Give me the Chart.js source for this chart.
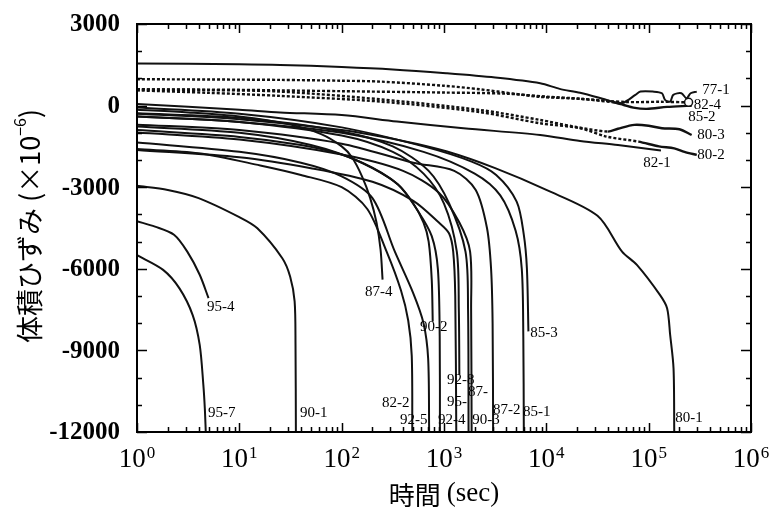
<!DOCTYPE html>
<html>
<head>
<meta charset="utf-8">
<script src="https://cdn.jsdelivr.net/npm/chart.js@4.4.1/dist/chart.umd.min.js"></script>
<style>
  body { margin: 0; background: #fff; }
</style>
</head>
<body>
<canvas id="myChart" width="774" height="516"></canvas>
<script>
// time (sec) and volumetric strain (x10^-6), one pair per specimen
const t77_1 = [1, 10, 25, 100, 316, 1047, 3162, 8710, 13490, 21380, 35481, 44668, 48978, 56234, 74131, 83176, 109648, 134896, 144544, 162181, 173780, 208930, 234423, 257040, 295121]
const v77_1 = [1550, 1520, 1496, 1420, 1330, 1188, 1030, 820, 614, 470, 250, 140, 110, 100, 393, 515, 515, 453, 210, 147, 393, 453, 270, 453, 515]

const t82_4 = [1, 10, 25, 100, 240, 1000, 2239, 5012, 8710, 21380, 61660, 128825, 245471]
const v82_4 = [970, 955, 945, 915, 882, 730, 600, 430, 320, 250, 130, 140, 120]

const t85_2 = [1, 10, 25, 100, 1000, 3981, 10000, 21380, 44668, 56234, 70795, 95499, 151356, 234423, 263027]
const v85_2 = [600, 580, 560, 530, 480, 440, 330, 250, 120, 30, -74, -121, -48, -11, -5]

const t80_3 = [1, 5, 25, 240, 2239, 8710, 18621, 39811, 50119, 72444, 100000, 134896, 199526, 263027]
const v80_3 = [600, 570, 515, 230, -160, -527, -770, -955, -850, -710, -740, -833, -870, -1080]

const t80_2 = [1, 5, 25, 240, 2239, 8710, 21380, 38905, 79433, 125893, 177828, 223872, 295121]
const v80_2 = [560, 470, 357, 147, -240, -650, -833, -1140, -1323, -1500, -1570, -1700, -1813]

const t82_1 = [1, 10, 25, 100, 347, 1549, 8710, 21380, 50119, 120226, 131826]
const v82_1 = [60, -150, -250, -350, -588, -834, -1080, -1300, -1450, -1630, -1650]

const t80_1 = [1, 10, 100, 398, 1072, 3162, 10000, 31623, 54954, 76736, 128825, 151356, 162181, 174985, 177828]
const v80_1 = [-300, -500, -900, -1300, -1690, -2300, -3100, -4050, -5367, -5856, -6960, -7450, -8430, -9660, -12000]

const t87_4 = [1, 3.16, 10, 31.6, 63, 100, 126, 158, 190, 219, 240, 251]
const v87_4 = [-150, -250, -400, -700, -1050, -1500, -1900, -2600, -3400, -4300, -5300, -6400]

const t82_2 = [1, 4, 16, 40, 100, 178, 275, 380, 447, 484, 490]
const v82_2 = [-1600, -1750, -2200, -2550, -3000, -3800, -5370, -6800, -7900, -9200, -12000]

const t92_5 = [1, 10, 40, 100, 200, 331, 501, 631, 700, 716]
const v92_5 = [-1360, -1700, -2100, -2600, -3400, -5370, -6900, -8000, -9300, -12000]

const t90_2 = [1, 10, 40, 100, 200, 355, 501, 631, 708, 759, 776]
const v90_2 = [-900, -1150, -1450, -1800, -2300, -2900, -3600, -4300, -5000, -6400, -7940]

const t92_4 = [1, 10, 50, 158, 355, 562, 759, 871, 908, 912]
const v92_4 = [-770, -1000, -1450, -2100, -2900, -3900, -4800, -6000, -8500, -12000]

const t95_x = [1, 10, 50, 200, 501, 891, 1122, 1230, 1288, 1318]
const v95_x = [-1630, -1900, -2300, -2800, -3500, -4300, -4700, -5370, -7000, -12000]

const t92_8 = [1, 10, 100, 316, 631, 1000, 1334, 1396, 1413]
const v92_8 = [-400, -600, -1100, -1700, -2500, -3600, -5370, -7500, -9900]

const t87_1 = [1, 10, 100, 316, 708, 1122, 1622, 1718, 1738]
const v87_1 = [-280, -450, -950, -1500, -2400, -3600, -5370, -7500, -12000]

const t90_3 = [1, 10, 100, 398, 891, 1413, 1799, 1841, 1862]
const v90_3 = [-990, -1250, -1800, -2400, -3200, -4300, -5370, -7500, -12000]

const t87_2 = [1, 10, 100, 501, 1259, 2042, 2630, 2884, 2985, 3020]
const v87_2 = [-700, -900, -1400, -2100, -2400, -3100, -4500, -6000, -8000, -12000]

const t85_1 = [1, 10, 100, 631, 1995, 3548, 5012, 5754, 5957, 6026]
const v85_1 = [-400, -600, -1000, -1700, -2500, -3300, -4600, -6000, -8500, -12000]

const t85_3 = [1, 10, 100, 631, 1862, 3236, 5129, 6026, 6457, 6683]
const v85_3 = [-74, -300, -800, -1500, -2060, -2550, -3530, -4750, -5980, -8300]

const t95_4 = [1, 1.5, 2.3, 3.1, 4.1, 5.0]
const v95_4 = [-4250, -4450, -4750, -5370, -6220, -7080]

const t95_7 = [1, 1.8, 2.6, 3.5, 4.1, 4.45, 4.6, 4.7]
const v95_7 = [-5500, -6040, -6720, -7700, -8800, -10270, -11130, -12000]

const t90_1 = [1, 2, 4, 10, 15, 26.3, 31.4, 34.7, 35.4, 35.7]
const v90_1 = [-2950, -3100, -3400, -4100, -4510, -5610, -6290, -7200, -8800, -12000]

const series = [
  ['77-1', t77_1, v77_1], ['82-4', t82_4, v82_4], ['85-2', t85_2, v85_2],
  ['80-3', t80_3, v80_3], ['80-2', t80_2, v80_2], ['82-1', t82_1, v82_1],
  ['80-1', t80_1, v80_1], ['87-4', t87_4, v87_4], ['82-2', t82_2, v82_2],
  ['92-5', t92_5, v92_5], ['90-2', t90_2, v90_2], ['92-4', t92_4, v92_4],
  ['95-', t95_x, v95_x], ['92-8', t92_8, v92_8], ['87-', t87_1, v87_1],
  ['90-3', t90_3, v90_3], ['87-2', t87_2, v87_2], ['85-1', t85_1, v85_1],
  ['85-3', t85_3, v85_3], ['95-4', t95_4, v95_4], ['95-7', t95_7, v95_7],
  ['90-1', t90_1, v90_1]
]

// dotted records, and the time from which they continue as a solid line
const dotted = ['82-4', '85-2', '80-3', '80-2']
const solidFrom = { '85-2': 44668, '80-3': 39811, '80-2': 79433 }
const circleEnd = ['82-4']

// curve labels: text, time, strain of the left edge of the text
const labelText  = ['77-1', '82-4', '85-2', '80-3', '80-2', '82-1', '95-4', '95-7', '90-1', '87-4', '82-2', '92-5', '90-2', '92-4', '95-', '92-8', '87-', '90-3', '87-2', '85-1', '85-3', '80-1']
const labelTime  = [333000, 275000, 243000, 298000, 298000, 88300, 4.84, 4.94, 39.2, 169, 248, 372, 584, 876, 1072, 1072, 1720, 1884, 3020, 5930, 6950, 181600]
const labelValue = [574, 22, -419, -1081, -1816, -2110, -7404, -11302, -11302, -6853, -10934, -11559, -8140, -11559, -10897, -10088, -10529, -11559, -11191, -11265, -8360, -11485]

const yTicks = [3000, 0, -3000, -6000, -9000, -12000]
const xPowers = [0, 1, 2, 3, 4, 5, 6]

const serif = '"Liberation Serif", "Times New Roman", serif'
const gothic = '"Noto Sans CJK JP", sans-serif'

const datasets = series.map(([name, ts, vs]) => {
  const isDotted = dotted.includes(name)
  const from = solidFrom[name]
  const last = ts.length - 1
  return {
    label: name,
    data: ts.map((t, i) => ({ x: t, y: vs[i] })),
    borderColor: '#111',
    borderWidth: isDotted ? 2.4 : 2,
    borderDash: isDotted ? [3, 2] : [],
    tension: 0.3,
    pointRadius: ctx => (circleEnd.includes(name) && ctx.dataIndex === last) ? 4 : 0,
    pointBackgroundColor: '#fff',
    pointBorderColor: '#111',
    pointBorderWidth: 1.5,
    segment: {
      borderDash: ctx => (from && ctx.p0.parsed.x >= from) ? [] : undefined
    }
  }
})

const decorations = {
  id: 'decorations',
  afterDraw(chart) {
    const { ctx, chartArea: a, scales: { x, y } } = chart
    ctx.save()
    ctx.strokeStyle = '#000'
    ctx.fillStyle = '#000'

    // frame
    ctx.lineWidth = 2
    ctx.strokeRect(a.left, a.top, a.right - a.left, a.bottom - a.top)

    // inward ticks
    ctx.lineWidth = 1.5
    ctx.beginPath()
    for (const p of xPowers) {
      for (let m = 1; m < 10; m++) {
        if (p === 6 && m > 1) break
        const px = Math.round(x.getPixelForValue(m * Math.pow(10, p))) + 0.5
        const len = m === 1 ? 9 : 5
        ctx.moveTo(px, a.bottom); ctx.lineTo(px, a.bottom - len)
        ctx.moveTo(px, a.top); ctx.lineTo(px, a.top + len)
      }
    }
    for (let v = -12000; v <= 3000; v += 1000) {
      const py = Math.round(y.getPixelForValue(v)) + 0.5
      const len = v % 3000 === 0 ? 10 : 5
      ctx.moveTo(a.left, py); ctx.lineTo(a.left + len, py)
      ctx.moveTo(a.right, py); ctx.lineTo(a.right - len, py)
    }
    ctx.stroke()

    // y tick labels
    ctx.font = 'bold 25px ' + serif
    ctx.textAlign = 'right'
    ctx.textBaseline = 'middle'
    for (const v of yTicks) {
      ctx.fillText(String(v), a.left - 17, y.getPixelForValue(v) + 1)
    }

    // x tick labels 10^n
    ctx.textAlign = 'left'
    ctx.textBaseline = 'alphabetic'
    for (const p of xPowers) {
      const px = x.getPixelForValue(Math.pow(10, p))
      ctx.font = '27px ' + serif
      const w1 = ctx.measureText('10').width
      ctx.font = '17px ' + serif
      const w2 = ctx.measureText(String(p)).width
      const x0 = px - (w1 + w2 + 1) / 2
      ctx.font = '27px ' + serif
      ctx.fillText('10', x0, 467)
      ctx.font = '17px ' + serif
      ctx.fillText(String(p), x0 + w1 + 1, 458)
    }

    // x title
    ctx.font = '26px ' + gothic
    const wA = ctx.measureText('時間 ').width
    ctx.font = '27px ' + serif
    const wB = ctx.measureText('(sec)').width
    const xt = (a.left + a.right) / 2 - (wA + wB) / 2
    ctx.textBaseline = 'middle'
    ctx.font = '26px ' + gothic
    ctx.fillText('時間 ', xt, 495)
    ctx.font = '27px ' + serif
    ctx.fillText('(sec)', xt + wA, 494)

    // y title, rotated
    ctx.save()
    ctx.translate(28, 226)
    ctx.rotate(-Math.PI / 2)
    ctx.font = '27px ' + gothic
    const p1 = '体積ひずみ (×10'
    const w1 = ctx.measureText(p1).width
    ctx.font = '16px ' + gothic
    const w2 = ctx.measureText('−6').width
    ctx.font = '27px ' + gothic
    const w3 = ctx.measureText(')').width
    let xs = -(w1 + w2 + w3) / 2
    ctx.fillText(p1, xs, 2)
    ctx.font = '16px ' + gothic
    ctx.fillText('−6', xs + w1, -8)
    ctx.font = '27px ' + gothic
    ctx.fillText(')', xs + w1 + w2, 2)
    ctx.restore()

    // curve labels
    ctx.font = '15px ' + serif
    ctx.textAlign = 'left'
    ctx.textBaseline = 'middle'
    labelText.forEach((txt, i) => {
      ctx.fillText(txt, x.getPixelForValue(labelTime[i]), y.getPixelForValue(labelValue[i]))
    })
    ctx.restore()
  }
}

new Chart(document.getElementById('myChart'), {
  type: 'line',
  data: { datasets },
  options: {
    responsive: false,
    animation: false,
    layout: { padding: { left: 137, right: 23, top: 24, bottom: 84 } },
    plugins: { legend: { display: false }, tooltip: { enabled: false } },
    scales: {
      x: { type: 'logarithmic', min: 1, max: 1e6, display: false },
      y: { type: 'linear', min: -12000, max: 3000, display: false }
    }
  },
  plugins: [decorations]
})
</script>
</body>
</html>
